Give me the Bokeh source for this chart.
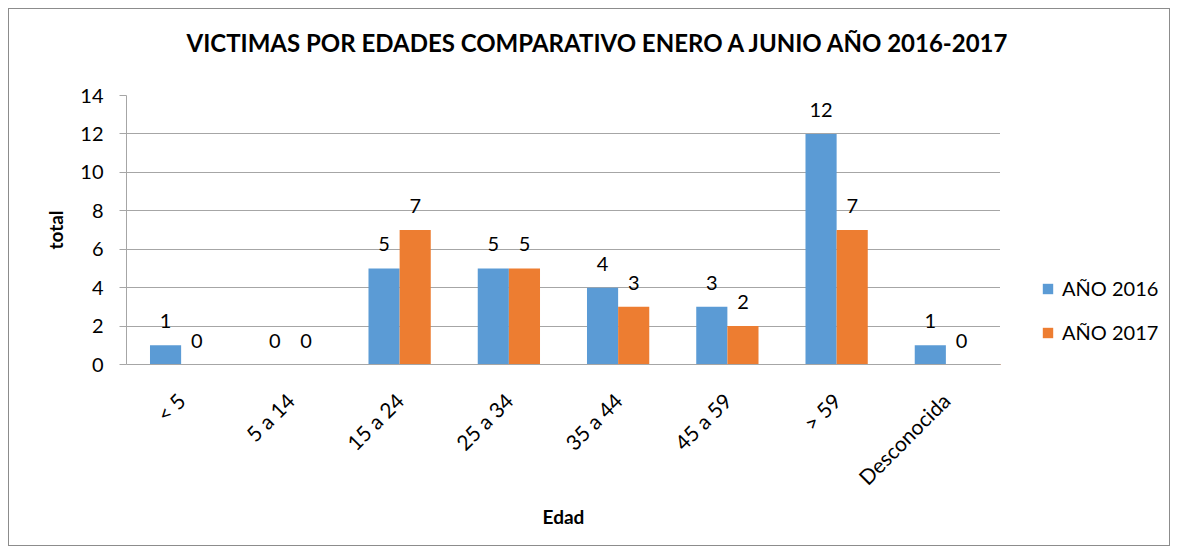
import math
from bokeh.plotting import figure
from bokeh.layouts import row, column
from bokeh.models import ColumnDataSource, Legend, LegendItem, FactorRange, Title, Range1d
from bokeh.transform import dodge
from bokeh.core.properties import value
from bokeh.embed import file_html
from bokeh.resources import INLINE

categories = ["< 5", "5 a 14", "15 a 24", "25 a 34", "35 a 44", "45 a 59", "> 59", "Desconocida"]
anio_2016 = [1, 0, 5, 5, 4, 3, 12, 1]
anio_2017 = [0, 0, 7, 5, 3, 2, 7, 0]
series_names = ["AÑO 2016", "AÑO 2017"]
y_ticks = [0, 2, 4, 6, 8, 10, 12, 14]
chart_title = "VICTIMAS POR EDADES COMPARATIVO ENERO A JUNIO AÑO 2016-2017"

FONT = "Lato"
BLUE = "#5B9BD5"
ORANGE = "#ED7D31"

src = ColumnDataSource(dict(cat=categories, a=anio_2016, b=anio_2017,
                            la=[str(v) for v in anio_2016], lb=[str(v) for v in anio_2017]))

# ---- title strip ----
tfig = figure(width=1160, height=72, output_backend="svg", toolbar_location=None,
              x_axis_type=None, y_axis_type=None, min_border_left=18, min_border_right=0,
              min_border_top=56, min_border_bottom=0)
tfig.title = Title(text=chart_title, align="center", standoff=17, text_font=FONT,
                   text_font_size="24px", text_font_style="bold", text_color="#000000")
tfig.outline_line_color = None
tfig.xgrid.grid_line_color = None
tfig.ygrid.grid_line_color = None
tfig.border_fill_color = "white"

# ---- main chart ----
p = figure(x_range=FactorRange(*categories, range_padding=0), y_range=(0, 14),
           width=991, height=464, output_backend="svg", toolbar_location=None,
           min_border_left=117, min_border_right=0, min_border_top=14, min_border_bottom=181)

bw = 0.285
r1 = p.vbar(x=dodge("cat", -bw / 2, range=p.x_range), top="a", width=bw, source=src,
            fill_color=BLUE, line_color=None)
r2 = p.vbar(x=dodge("cat", bw / 2, range=p.x_range), top="b", width=bw, source=src,
            fill_color=ORANGE, line_color=None)

for col, lab, off in (("a", "la", -bw / 2), ("b", "lb", bw / 2)):
    p.text(x=dodge("cat", off, range=p.x_range), y=col, text=lab, source=src,
           text_align="center", text_baseline="middle", y_offset=-24,
           text_font=value(FONT), text_font_size="20px", text_color="#000000")

p.yaxis.ticker = y_ticks
p.yaxis.axis_label = "total"
p.xaxis.axis_label = "Edad"
for ax in (p.xaxis[0], p.yaxis[0]):
    ax.axis_label_text_font = FONT
    ax.axis_label_text_font_style = "bold"
    ax.axis_label_text_font_size = "19px"
    ax.axis_label_text_color = "#000000"
    ax.major_label_text_font = FONT
    ax.major_label_text_font_size = "20px"
    ax.major_label_text_color = "#000000"
    ax.axis_line_color = "#a6a6a6"
    ax.major_tick_line_color = "#a6a6a6"
    ax.minor_tick_line_color = None

p.xaxis.major_label_text_font_size = "21px"
p.yaxis.major_tick_out = 7
p.yaxis.major_tick_in = 0
p.yaxis.major_label_standoff = 16
p.yaxis.axis_label_standoff = 10
p.xaxis.major_tick_line_color = None
p.xaxis.major_label_orientation = math.pi / 4
p.xaxis.major_label_standoff = 26
p.xaxis.axis_label_standoff = 4

p.xgrid.grid_line_color = None
p.ygrid.grid_line_color = "#a6a6a6"
p.outline_line_color = None
p.background_fill_color = "white"
p.border_fill_color = "white"

# ---- legend strip ----
lp = figure(width=169, height=464, output_backend="svg", toolbar_location=None,
            x_axis_type=None, y_axis_type=None, min_border=0,
            x_range=Range1d(100, 101), y_range=Range1d(100, 101))
lp.outline_line_color = None
lp.xgrid.grid_line_color = None
lp.ygrid.grid_line_color = None
lp.border_fill_color = "white"
l1 = lp.vbar(x="a", top="a", width=0.5, source=src, fill_color=BLUE, line_color=None)
l2 = lp.vbar(x="b", top="b", width=0.5, source=src, fill_color=ORANGE, line_color=None)
legend = Legend(items=[LegendItem(label=series_names[0], renderers=[l1]),
                       LegendItem(label=series_names[1], renderers=[l2])],
                location=(41, 20), orientation="vertical", border_line_color=None,
                label_text_font=FONT, label_text_font_size="20px", label_text_color="#000000",
                glyph_width=13, glyph_height=13, spacing=20, label_standoff=8, padding=0,
                margin=0, background_fill_alpha=0)
lp.add_layout(legend, "center")

layout = column(tfig, row(p, lp),
                styles={"border": "1px solid #8c8c8c", "margin": "8px 0 0 8px"})

open("out.html", "w").write(file_html(layout, INLINE))
